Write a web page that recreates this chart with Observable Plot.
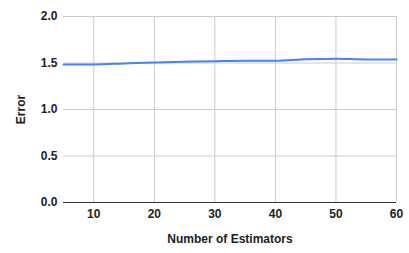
<!DOCTYPE html>
<html>
<head>
<meta charset="utf-8">
<script src="https://cdn.jsdelivr.net/npm/d3@7"></script>
<script src="https://cdn.jsdelivr.net/npm/@observablehq/plot@0.6"></script>
<style>
  html, body { margin: 0; padding: 0; background: #fff; }
  svg { font-family: "Liberation Sans", Arial, sans-serif; }
</style>
</head>
<body>
<div id="chart"></div>
<script>
const estimators = [5, 10, 15, 20, 25, 30, 35, 40, 45, 50, 55, 60];
const errors = [1.485, 1.485, 1.495, 1.506, 1.513, 1.520, 1.525, 1.524, 1.540, 1.546, 1.538, 1.538];
const xTicks = [10, 20, 30, 40, 50, 60];
const yTicks = [0, 0.5, 1.0, 1.5, 2.0];

const data = estimators.map((x, i) => ({x, y: errors[i]}));

const chart = Plot.plot({
  width: 409,
  height: 253,
  marginLeft: 63,
  marginRight: 13,
  marginTop: 16,
  marginBottom: 51,
  style: {fontFamily: "Liberation Sans, Arial, sans-serif", fontSize: "12px", fontWeight: "bold", color: "#222", background: "#fff"},
  x: {domain: [5, 60]},
  y: {domain: [0, 2]},
  marks: [
    Plot.gridX(xTicks, {stroke: "#cccccc", strokeOpacity: 1, strokeWidth: 1}),
    Plot.gridY(yTicks, {stroke: "#cccccc", strokeOpacity: 1, strokeWidth: 1}),
    Plot.ruleY([0], {stroke: "#333333", strokeWidth: 1}),
    Plot.axisX(xTicks, {tickSize: 0, tickPadding: 7, tickFormat: d => String(d), fontSize: 12, fontWeight: "bold", label: "Number of Estimators", labelAnchor: "center", labelArrow: "none", labelOffset: 40}),
    Plot.axisY(yTicks, {tickSize: 0, tickPadding: 6, tickFormat: d3.format(".1f"), fontSize: 12, fontWeight: "bold", label: "Error", labelAnchor: "center", labelArrow: "none", labelOffset: 47}),
    Plot.line(data, {x: "x", y: "y", stroke: "#4285F4", strokeWidth: 2, curve: "monotone-x"})
  ]
});
document.getElementById("chart").appendChild(chart);
</script>
</body>
</html>
